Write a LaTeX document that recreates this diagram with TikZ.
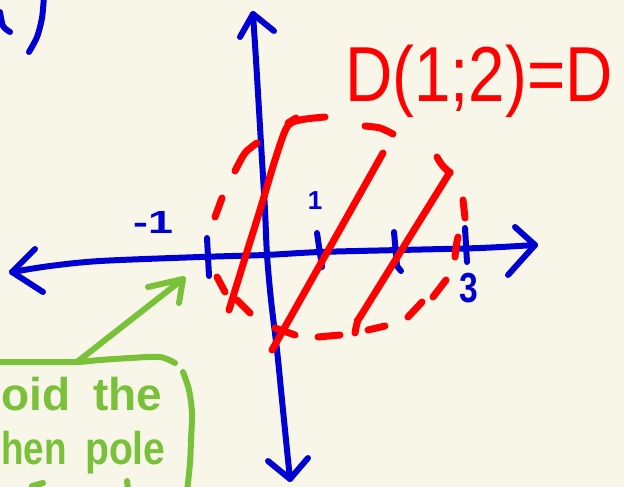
\documentclass[tikz,border=0pt]{standalone}
\usepackage{fontspec}
\setmainfont{Liberation Sans}
\definecolor{bg}{RGB}{248,245,233}
\definecolor{penblue}{RGB}{0,0,210}
\definecolor{penred}{RGB}{255,0,0}
\definecolor{pengreen}{RGB}{122,193,58}
\begin{document}
\begin{tikzpicture}[x=1pt,y=-1pt,line cap=round,line join=round,
  bluepen/.style={draw=penblue,line width=6pt},
  redpen/.style={draw=penred,line width=7pt},
  greenpen/.style={draw=pengreen,line width=6pt},
  bluetext/.style={text=penblue,inner sep=0pt},
  greentext/.style={text=pengreen,inner sep=0pt,font=\bfseries\fontsize{46}{46}\selectfont}]
\useasboundingbox (0,0) rectangle (624,487);
\clip (0,0) rectangle (624,487);
\fill[bg] (0,0) rectangle (624,487);

% fragments top-left
\draw[bluepen] plot[smooth] coordinates {(0,12) (3,26) (10,32)};
\draw[bluepen] plot[smooth] coordinates {(44,-4) (42,18) (37,37) (29,52)};

% y axis
\coordinate (ytop) at (253,14);
\coordinate (ybot) at (290,479);
\draw[bluepen] plot[smooth] coordinates {(ytop) (256,60) (259,110) (262,160) (265,210) (267,255) (271,300) (277,350) (281,390) (284,420) (287,450) (ybot)};
\draw[bluepen] (240,37) -- (ytop) -- (274,31);
\draw[bluepen] (268,461) -- (ybot) -- (308,458);

% x axis
\coordinate (xleft) at (12,272);
\coordinate (xright) at (535,245);
\draw[bluepen] plot[smooth] coordinates {(xleft) (50,266) (100,261) (200,257) (265,255) (320,252) (400,250) (480,248) (xright)};
\draw[bluepen] (35,249) -- (xleft) -- (43,292);
\draw[bluepen] (515,227) -- (xright) -- (508,275);

% ticks
\draw[bluepen] (207,238) -- (209,276);
\draw[bluepen] (317,233) -- (322,267);
\draw[bluepen] (394,232) -- (397,266) -- (401,271);
\draw[bluepen] (465,228) -- (467,262);

% tick labels
\node[bluetext,font=\bfseries\fontsize{32}{32}\selectfont] (lm1) at (153,222) {\scalebox{1.4}[1]{-1}};
\node[bluetext,font=\bfseries\fontsize{26}{26}\selectfont] (l1) at (315,201) {1};
\node[bluetext,font=\bfseries\fontsize{42}{42}\selectfont] (l3) at (469,288) {\scalebox{0.8}[1]{3}};

% red title
\node[text=penred,anchor=base west,inner sep=0pt,font=\fontsize{78}{78}\selectfont] (title) at (345,102) {\scalebox{0.84}[1]{D(1;2)=D}};

% hatch lines
\draw[redpen] plot[smooth] coordinates {(229,310) (245,258) (260,210) (275,160) (287,127) (300,120) (325,117)};
\draw[redpen] (288,123) -- (296,118);
\draw[redpen] (272,350) -- (383,153);
\draw[redpen] plot[smooth] coordinates {(355,333) (358,320) (365,309) (450,172)};

% dashed circle
\draw[redpen] plot[smooth] coordinates {(257,143) (245,153) (235,171)};
\draw[redpen] (222,198) -- (215,217);
\draw[redpen] (217,277) -- (225,292);
\draw[redpen] (237,300) -- (250,313);
\draw[redpen] (275,328) -- (295,335);
\draw[redpen] (318,337) -- (340,335);
\draw[redpen] (368,330) -- (385,326);
\draw[redpen] (408,317) -- (422,302);
\draw[redpen] (433,297) -- (446,280);
\draw[redpen] plot[smooth] coordinates {(458,237) (456,247) (455,257)};
\draw[redpen] (463,200) -- (465,218);
\draw[redpen] plot[smooth] coordinates {(437,157) (442,165) (450,173)};
\draw[redpen] plot[smooth] coordinates {(365,126) (380,128) (393,134)};

% green note
\coordinate (ptail) at (77,362);
\coordinate (ptip) at (183,279);
\draw[greenpen] plot[smooth] coordinates {(-5,362) (40,362) (ptail) (100,360) (130,358) (160,357) (175,363)};
\draw[greenpen] (ptail) -- (ptip);
\draw[greenpen] (148,287) -- (ptip) -- (179,303);
\draw[greenpen] plot[smooth] coordinates {(183,372) (189,390) (192,413) (191,440) (190,463) (187,492)};
\node[greentext,anchor=base west] (w1) at (1,410) {oid};
\node[greentext,anchor=base west] (w2) at (93,410) {the};
\node[greentext,anchor=base west] (w3) at (1,464) {\scalebox{0.8}[1]{hen}};
\node[greentext,anchor=base west] (w4) at (85,464) {\scalebox{0.85}[1]{pole}};
\draw[greenpen] (32,486) -- (43,483);
\draw[greenpen] (127,481) -- (128,490);
\end{tikzpicture}
\end{document}
